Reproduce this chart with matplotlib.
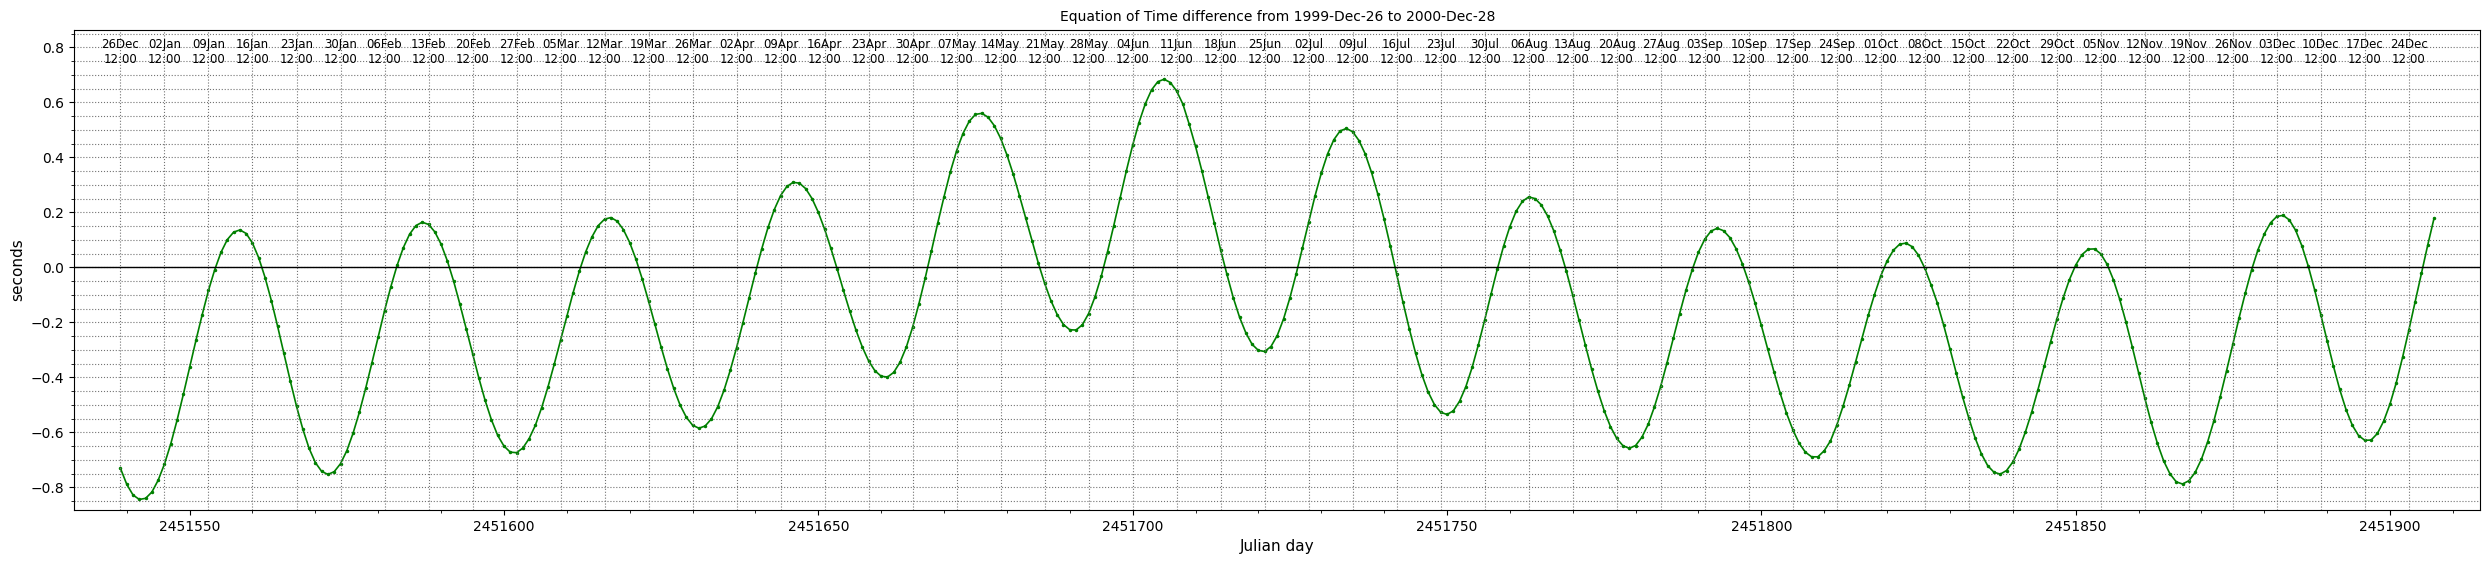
import numpy as np
import matplotlib
matplotlib.use('Agg')
import matplotlib.pyplot as plt
from matplotlib.ticker import MultipleLocator

# first sample: 1999-Dec-26 12:00 (JD 2451539), one sample per day
first_jd = 2451539

# equation of time difference (seconds), daily values
eot_diff = [
    -0.731, -0.789, -0.828, -0.844, -0.840, -0.817, -0.774, -0.715, -0.642, -0.556,
    -0.462, -0.364, -0.266, -0.172, -0.084, -0.008, 0.055, 0.101, 0.128, 0.136,
    0.123, 0.088, 0.034, -0.037, -0.121, -0.215, -0.313, -0.412, -0.505, -0.588,
    -0.658, -0.710, -0.742, -0.753, -0.743, -0.714, -0.667, -0.603, -0.527, -0.440,
    -0.347, -0.252, -0.158, -0.071, 0.007, 0.072, 0.121, 0.152, 0.164, 0.156,
    0.129, 0.084, 0.023, -0.051, -0.135, -0.224, -0.314, -0.402, -0.484, -0.554,
    -0.611, -0.650, -0.672, -0.674, -0.657, -0.623, -0.574, -0.510, -0.435, -0.352,
    -0.265, -0.177, -0.092, -0.013, 0.056, 0.111, 0.152, 0.175, 0.181, 0.168,
    0.137, 0.090, 0.029, -0.043, -0.123, -0.206, -0.290, -0.369, -0.440, -0.500,
    -0.545, -0.574, -0.585, -0.577, -0.551, -0.507, -0.447, -0.374, -0.292, -0.202,
    -0.110, -0.019, 0.067, 0.145, 0.210, 0.261, 0.294, 0.309, 0.306, 0.286,
    0.250, 0.200, 0.139, 0.069, -0.006, -0.084, -0.159, -0.229, -0.290, -0.340,
    -0.376, -0.396, -0.399, -0.382, -0.345, -0.290, -0.218, -0.133, -0.039, 0.060,
    0.161, 0.257, 0.347, 0.424, 0.486, 0.531, 0.556, 0.560, 0.546, 0.515,
    0.469, 0.409, 0.339, 0.260, 0.178, 0.095, 0.015, -0.058, -0.121, -0.172,
    -0.208, -0.227, -0.228, -0.209, -0.168, -0.108, -0.033, 0.056, 0.152, 0.252,
    0.351, 0.444, 0.526, 0.594, 0.645, 0.675, 0.684, 0.672, 0.641, 0.593,
    0.520, 0.440, 0.352, 0.257, 0.160, 0.063, -0.026, -0.110, -0.181, -0.238,
    -0.280, -0.302, -0.306, -0.288, -0.248, -0.188, -0.112, -0.025, 0.070, 0.166,
    0.259, 0.342, 0.412, 0.464, 0.496, 0.505, 0.493, 0.461, 0.412, 0.345,
    0.266, 0.175, 0.076, -0.025, -0.127, -0.223, -0.312, -0.390, -0.453, -0.499,
    -0.527, -0.535, -0.522, -0.487, -0.434, -0.364, -0.281, -0.191, -0.098, -0.007,
    0.077, 0.148, 0.204, 0.240, 0.256, 0.250, 0.227, 0.187, 0.132, 0.063,
    -0.015, -0.102, -0.192, -0.282, -0.370, -0.450, -0.521, -0.579, -0.622, -0.649,
    -0.658, -0.648, -0.618, -0.571, -0.507, -0.432, -0.347, -0.258, -0.169, -0.084,
    -0.009, 0.055, 0.102, 0.132, 0.142, 0.133, 0.108, 0.067, 0.012, -0.054,
    -0.130, -0.211, -0.296, -0.379, -0.458, -0.530, -0.590, -0.639, -0.672, -0.689,
    -0.689, -0.667, -0.631, -0.574, -0.505, -0.428, -0.344, -0.259, -0.175, -0.099,
    -0.031, 0.023, 0.062, 0.084, 0.088, 0.075, 0.044, -0.003, -0.064, -0.130,
    -0.210, -0.296, -0.384, -0.470, -0.548, -0.620, -0.678, -0.721, -0.745, -0.752,
    -0.739, -0.708, -0.661, -0.599, -0.527, -0.445, -0.359, -0.272, -0.189, -0.112,
    -0.045, 0.008, 0.046, 0.066, 0.067, 0.049, 0.011, -0.045, -0.116, -0.199,
    -0.289, -0.383, -0.476, -0.563, -0.640, -0.704, -0.751, -0.780, -0.788, -0.776,
    -0.746, -0.698, -0.634, -0.557, -0.470, -0.376, -0.280, -0.183, -0.092, -0.008,
    0.064, 0.121, 0.162, 0.185, 0.189, 0.172, 0.134, 0.077, 0.004, -0.081,
    -0.173, -0.267, -0.359, -0.444, -0.517, -0.574, -0.612, -0.629, -0.628, -0.604,
    -0.559, -0.497, -0.419, -0.327, -0.228, -0.125, -0.022, 0.081, 0.178,
]

# weekly date markers, every 7 days from the first sample
week_labels = [
    '26Dec', '02Jan', '09Jan', '16Jan', '23Jan', '30Jan', '06Feb', '13Feb', '20Feb',
    '27Feb', '05Mar', '12Mar', '19Mar', '26Mar', '02Apr', '09Apr', '16Apr', '23Apr',
    '30Apr', '07May', '14May', '21May', '28May', '04Jun', '11Jun', '18Jun', '25Jun',
    '02Jul', '09Jul', '16Jul', '23Jul', '30Jul', '06Aug', '13Aug', '20Aug', '27Aug',
    '03Sep', '10Sep', '17Sep', '24Sep', '01Oct', '08Oct', '15Oct', '22Oct', '29Oct',
    '05Nov', '12Nov', '19Nov', '26Nov', '03Dec', '10Dec', '17Dec', '24Dec',
]
week_time = '12:00'

days = first_jd + np.arange(len(eot_diff))
week_days = first_jd + 7 * np.arange(len(week_labels))

fig = plt.figure(figsize=(24.9, 5.64), dpi=100)
ax = fig.add_axes([0.0298, 0.0957, 0.9663, 0.8516])

ax.plot(days, eot_diff, color='green', marker='.', markersize=3, linewidth=1.2)
ax.axhline(0, color='black', linewidth=1)

# weekly grid lines with the date written at the top of each
for d, lab in zip(week_days, week_labels):
    ax.axvline(d, color='0.45', linestyle=':', linewidth=0.8)
    ax.text(d, 0.953, lab + '\n' + week_time, transform=ax.get_xaxis_transform(),
            ha='center', va='center', fontsize=8.5)

ax.yaxis.set_major_locator(MultipleLocator(0.2))
ax.yaxis.set_minor_locator(MultipleLocator(0.05))
ax.xaxis.set_major_locator(MultipleLocator(50))
ax.xaxis.set_minor_locator(MultipleLocator(10))
ax.ticklabel_format(axis='x', style='plain', useOffset=False)
ax.grid(which='both', axis='y', color='0.45', linestyle=':', linewidth=0.8)

pad = 0.02 * (days[-1] - days[0])
ax.set_xlim(days[0] - pad, days[-1] + pad)
ax.set_ylim(-0.8825, 0.864)

ax.set_title('Equation of Time difference from 1999-Dec-26 to 2000-Dec-28', fontsize=10)
ax.set_xlabel('Julian day', fontsize=11)
ax.set_ylabel('seconds', fontsize=11)

fig.savefig('out.png', dpi=100)
